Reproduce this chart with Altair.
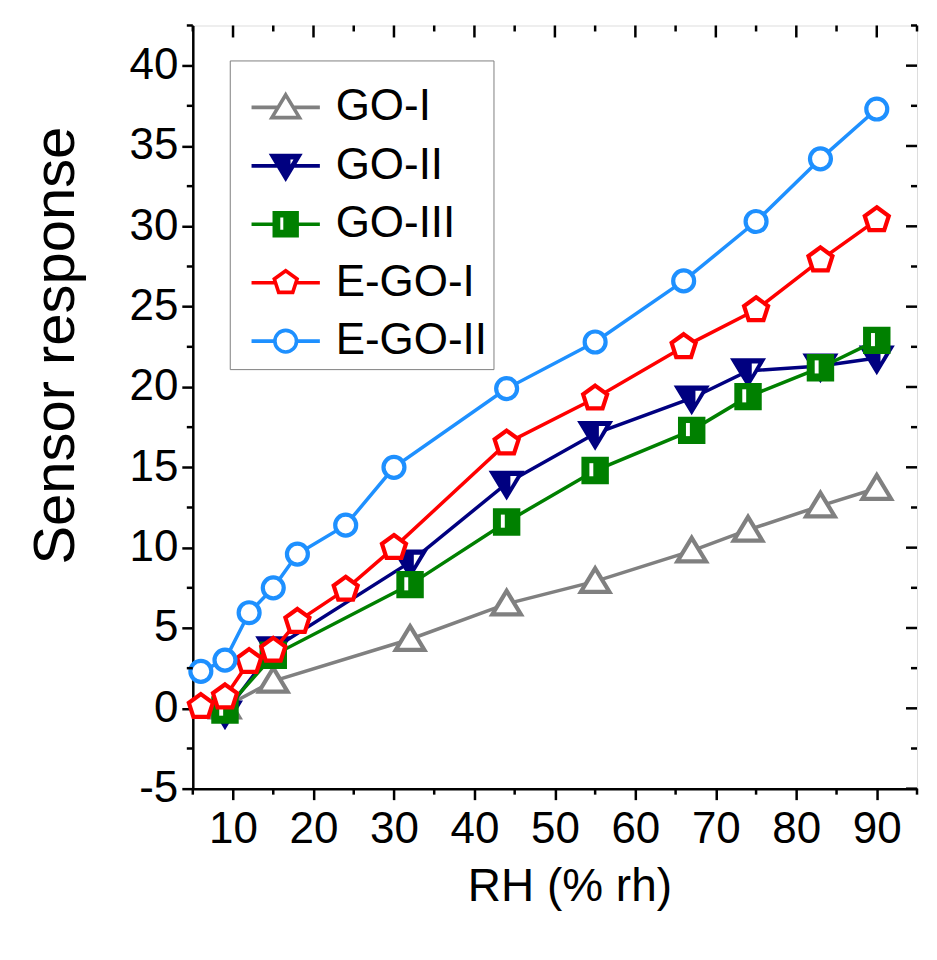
import altair as alt
import pandas as pd

# ---------------- data ----------------
series_names = ["GO-I", "GO-II", "GO-III", "E-GO-I", "E-GO-II"]

rh_go = [9, 15, 32, 44, 55, 67, 74, 83, 90]
go_i = [0.1, 1.7, 4.3, 6.5, 7.9, 9.8, 11.1, 12.6, 13.7]
go_ii = [-0.3, 3.7, 9.1, 14.0, 17.1, 19.3, 21.0, 21.3, 21.8]
go_iii = [-0.1, 3.3, 7.7, 11.6, 14.8, 17.3, 19.4, 21.2, 22.9]

rh_ego = [6, 9, 12, 15, 18, 24, 30, 44, 55, 66, 75, 83, 90]
ego_i = [0.1, 0.7, 2.9, 3.6, 5.4, 7.4, 10.0, 16.5, 19.3, 22.5, 24.8, 27.9, 30.4]
ego_ii = [2.3, 3.0, 5.95, 7.5, 9.6, 11.4, 15.0, 19.9, 22.8, 26.6, 30.3, 34.2, 37.3]

x_major = [10, 20, 30, 40, 50, 60, 70, 80, 90]
x_minor = [5, 15, 25, 35, 45, 55, 65, 75, 85, 95]
y_major = [-5, 0, 5, 10, 15, 20, 25, 30, 35, 40]
y_minor = [-2.5, 2.5, 7.5, 12.5, 17.5, 22.5, 27.5, 32.5, 37.5, 42.5]

colors = ["#808080", "#000080", "#008000", "#FF0000", "#1E90FF"]
fills = ["white", "#000080", "#008000", "white", "white"]

# ---------------- styling ----------------
W, H = 725, 764
FONT = "Liberation Sans"
xs = alt.Scale(domain=[5, 95], nice=False, zero=False)
ys = alt.Scale(domain=[-5, 42.5], nice=False, zero=False)

TRI_UP = "M0,-1.05L1.15,0.85L-1.15,0.85Z"
TRI_DOWN = "M-1.15,-0.85L1.15,-0.85L0,1.05Z"
TRI_DOWN_HOLE = "M0.3,-0.6L0.82,-0.6L0.3,0.3Z"
SQUARE = "M-0.95,-0.95H0.95V0.95H-0.95Z"
SQUARE_HOLE = "M-0.47,-0.6H-0.15V0.47H-0.47Z"
PENTA = "M0,-1L0.951,-0.309L0.588,0.809L-0.588,0.809L-0.951,-0.309Z"

# legend symbols: marker plus line segments on each side
legend_paths = [
    "M-2.85,0H-0.64M0.64,0H2.85" + TRI_UP,
    "M-2.85,0H-0.64M0.64,0H2.85" + TRI_DOWN + "M0.25,-0.68L0.25,0.42L0.92,-0.68Z",
    "M-2.85,0H-0.95M0.95,0H2.85" + SQUARE + "M-0.6,-0.72V0.6H-0.05V-0.72Z",
    "M-2.85,0H-0.85M0.85,0H2.85" + PENTA,
    "M-2.85,0H-0.9M0.9,0H2.85M0.9,0A0.9,0.9 0 1,1 -0.9,0A0.9,0.9 0 1,1 0.9,0Z",
]

x_axis = alt.Axis(
    values=x_major, grid=False, tickSize=11, tickWidth=2.5,
    tickColor="black", domainColor="black", domainWidth=2.5,
    labelExpr="'' + datum.value",
    labelFont=FONT, labelFontSize=44, labelColor="black", labelPadding=8,
    labelFlush=False, labelOverlap=False,
    titleFont=FONT, titleFontSize=46, titleFontWeight="normal", titleColor="black",
    titleX=377, titleY=76, titleAlign="center", titleBaseline="top",
)
y_axis = alt.Axis(
    values=y_major, grid=False, tickSize=11, tickWidth=2.5,
    tickColor="black", domainColor="black", domainWidth=2.5,
    labelExpr="'' + datum.value",
    labelFont=FONT, labelFontSize=44, labelColor="black", labelPadding=4,
    labelFlush=False, labelOverlap=False,
    titleFont=FONT, titleFontSize=58, titleFontWeight="normal", titleColor="black",
    titleX=-107, titleY=320, titleAngle=270, titleAlign="center", titleBaseline="bottom",
)
X_TITLE = "RH (% rh)"
Y_TITLE = "Sensor response"


def X(field):
    return alt.X(field, scale=xs, axis=x_axis, title=X_TITLE)


def Y(field):
    return alt.Y(field, scale=ys, axis=y_axis, title=Y_TITLE)


def vrules(vals, y0, y1):
    return alt.Chart(pd.DataFrame({"v": vals})).mark_rule(color="black", strokeWidth=2.5).encode(
        x=X("v:Q"), y=alt.value(y0), y2=alt.value(y1))


def hrules(vals, x0, x1):
    return alt.Chart(pd.DataFrame({"v": vals})).mark_rule(color="black", strokeWidth=2.5).encode(
        y=Y("v:Q"), x=alt.value(x0), x2=alt.value(x1))


def series(rh, vals, color, shape, fill, size, hole=None):
    df = pd.DataFrame({"RH": rh, "value": vals})
    enc = dict(x=X("RH:Q"), y=Y("value:Q"))
    layers = [
        alt.Chart(df).mark_line(color=color, strokeWidth=3.5).encode(**enc),
        alt.Chart(df).mark_point(shape=shape, size=size, filled=True, fill=fill,
                                 stroke=color, strokeWidth=4.2, opacity=1).encode(**enc),
    ]
    if hole:
        layers.append(alt.Chart(df).mark_point(shape=hole, size=size, filled=True,
                                               fill="white", strokeWidth=0, opacity=1).encode(**enc))
    return layers


leg = alt.Legend(
    orient="none", legendX=37, legendY=35, direction="vertical",
    title=" ", titleFontSize=2, titlePadding=17,
    padding=6, strokeColor="#808080", fillColor="white",
    labelFont=FONT, labelFontSize=44, labelColor="black", labelLimit=400,
    symbolSize=576, symbolStrokeWidth=3.6, symbolOffset=28, labelOffset=28,
    rowPadding=14.5,
)
legend_layer = alt.Chart(pd.DataFrame({"series": series_names})).transform_filter("false").mark_point(
    filled=True, opacity=1, size=576, strokeWidth=3.6
).encode(
    shape=alt.Shape("series:N", scale=alt.Scale(domain=series_names, range=legend_paths), legend=leg),
    stroke=alt.Stroke("series:N", scale=alt.Scale(domain=series_names, range=colors), legend=leg),
    fill=alt.Fill("series:N", scale=alt.Scale(domain=series_names, range=fills), legend=leg),
)

layers = []
layers += series(rh_go, go_i, colors[0], TRI_UP, "white", 620)
layers += series(rh_go, go_ii, colors[1], TRI_DOWN, colors[1], 620, hole=TRI_DOWN_HOLE)
layers += series(rh_go, go_iii, colors[2], SQUARE, colors[2], 600, hole=SQUARE_HOLE)
layers += series(rh_ego, ego_i, colors[3], PENTA, "white", 640)
layers += series(rh_ego, ego_ii, colors[4], "circle", "white", 440)
layers += [
    vrules(x_major, 0, 12), vrules(x_minor, 0, 6), vrules(x_minor, H, H + 6),
    hrules(y_major, W - 11, W), hrules(y_minor, W - 6, W), hrules(y_minor, -6, 0),
    legend_layer,
]

chart = alt.layer(*layers).properties(
    width=W, height=H,
    autosize=alt.AutoSizeParams(type="none"),
    padding={"left": 185, "top": 17, "right": 12, "bottom": 150},
).configure_view(stroke="black", strokeWidth=2.5).configure(background="white")

chart.save("out.html", embed_options={"renderer": "svg", "actions": False})
